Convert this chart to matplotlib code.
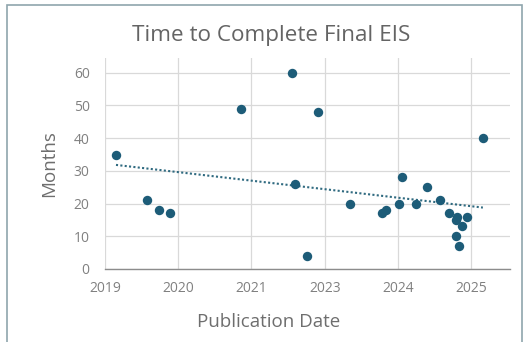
import numpy as np
import matplotlib.pyplot as plt
from matplotlib.patches import Rectangle

# Publication date positions on the date axis (in tick steps from the first tick)
pub_date = [0.15, 0.57, 0.74, 0.885, 1.857, 2.548, 2.589, 2.76, 2.91, 3.34,
            3.78, 3.84, 4.02, 4.055, 4.25, 4.39, 4.58, 4.70, 4.80, 4.79,
            4.87, 4.94, 4.79, 4.83, 5.16]
months = [35, 21, 18, 17, 49, 60, 26, 4, 48, 20,
          17, 18, 20, 28, 20, 25, 21, 17, 16, 15,
          13, 16, 10, 7, 40]

tick_labels = ["2019", "2020", "2021", "2023", "2024", "2025"]
y_ticks = [0, 10, 20, 30, 40, 50, 60]

point_color = "#1d5c78"
title_color = "#646464"
label_color = "#6e6e6e"
tick_color = "#808080"
grid_color = "#d9d9d9"

plt.rcParams['font.family'] = ['Open Sans', 'DejaVu Sans']

fig = plt.figure(figsize=(5.31, 3.42), dpi=100)
fig.patch.set_facecolor("white")

# chart frame
fig.patches.append(Rectangle((7 / 531, -0.1), 515 / 531, 1.085, transform=fig.transFigure,
                             fill=False, edgecolor="#8fa5ad", linewidth=1.2))

ax = fig.add_axes([105 / 531, 1 - 269 / 342, 405 / 531, 211 / 342])

x = np.array(pub_date)
y = np.array(months)
ax.scatter(x, y, s=46, color=point_color, zorder=3, linewidths=0)

# linear trendline
slope, intercept = np.polyfit(x, y, 1)
xt = np.array([x.min(), x.max()])
ax.plot(xt, slope * xt + intercept, linestyle=(0, (1, 1.1)), color="#2f6a80",
        linewidth=1.5, zorder=2)

ax.set_xlim(0, 5.53)
ax.set_ylim(0, 64.5)
ax.set_xticks(range(len(tick_labels)))
ax.set_xticklabels(tick_labels)
ax.set_yticks(y_ticks)

ax.grid(True, color=grid_color, linewidth=0.9)
ax.set_axisbelow(True)
for side in ["top", "right", "left"]:
    ax.spines[side].set_visible(False)
ax.spines["bottom"].set_color("#8c8c8c")
ax.spines["bottom"].set_linewidth(1.0)
ax.tick_params(length=0, labelsize=10, labelcolor=tick_color)
ax.tick_params(axis="x", pad=9)
ax.tick_params(axis="y", pad=11)

ax.set_xlabel("Publication Date", fontsize=13.5, color=label_color)
ax.xaxis.set_label_coords(164 / 405, -44 / 211)
ax.set_ylabel("Months", fontsize=13.5, color=label_color, labelpad=11)
fig.text(271 / 531, 1 - 36 / 342, "Time to Complete Final EIS", ha="center", va="center",
         fontsize=16.2, color=title_color)

fig.savefig("out.png", dpi=100)
